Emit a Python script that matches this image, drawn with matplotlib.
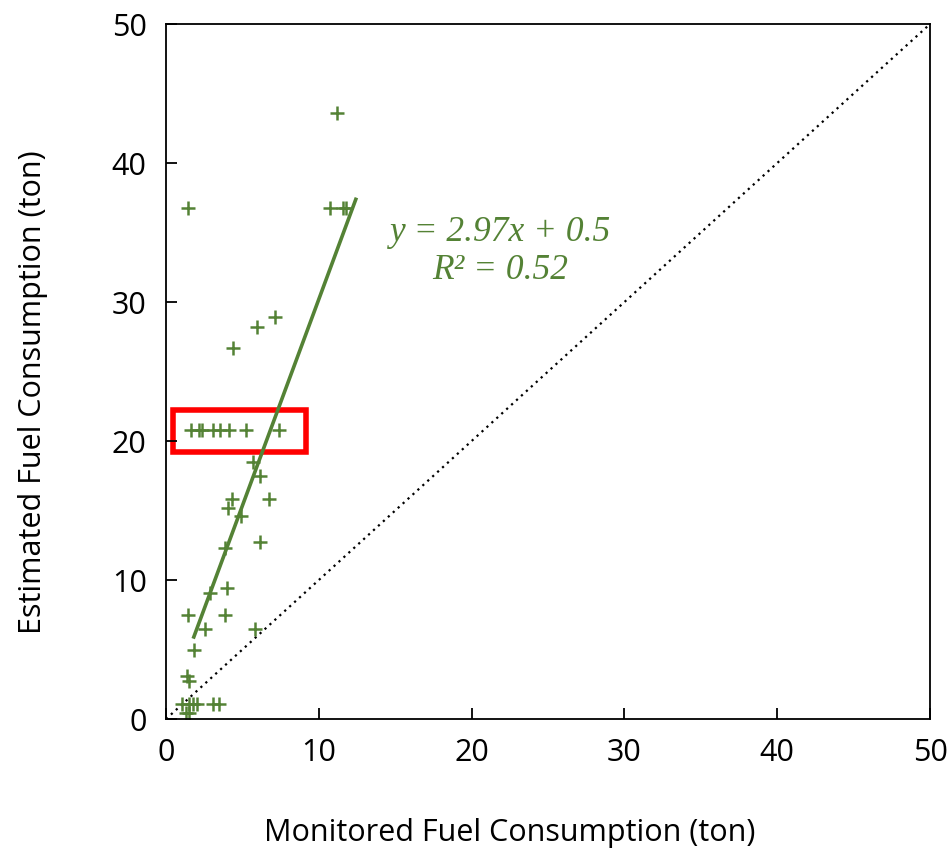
import numpy as np
import matplotlib.pyplot as plt
from matplotlib.patches import Rectangle

# monitored vs estimated fuel consumption (ton)
monitored = [1.64, 2.18, 2.36, 3.05, 3.55, 4.14, 5.24, 7.37,
             5.67, 6.17, 4.30, 4.08, 6.72, 4.89, 3.86, 6.17,
             2.88, 3.97, 1.46, 3.86, 2.57, 5.85, 1.85, 1.35, 1.48,
             1.03, 1.48, 1.79, 2.01, 3.05, 3.49, 1.30, 1.50,
             11.19, 1.46, 10.73, 11.56, 11.78, 7.13, 5.98, 4.38]
estimated = [20.8, 20.8, 20.8, 20.8, 20.8, 20.8, 20.8, 20.8,
             18.5, 17.5, 15.8, 15.2, 15.8, 14.6, 12.3, 12.7,
             9.1, 9.4, 7.5, 7.5, 6.5, 6.5, 5.0, 3.1, 2.7,
             1.1, 1.1, 1.1, 1.1, 1.1, 1.1, 0.4, 0.4,
             43.6, 36.8, 36.8, 36.8, 36.8, 28.9, 28.2, 26.7]

slope = 2.97
intercept = 0.5
r2 = 0.52
fit_x = [1.82, 12.42]

green = '#548235'

fig = plt.figure(figsize=(9.53, 8.49), dpi=100)
ax = fig.add_axes([0.1742, 0.1531, 0.8017, 0.8186])

ax.plot([0, 50], [0, 50], color='black', linestyle=(0, (1, 2)), linewidth=1.6)
ax.plot(monitored, estimated, '+', color=green, markersize=10, markeredgewidth=1.8)
fx = np.array(fit_x)
ax.plot(fx, slope * fx + intercept, color=green, linewidth=2.6)

ax.text(21.9, 35.0, 'y = %.2fx + %.1f' % (slope, intercept), color=green,
        family='Liberation Serif', style='italic', fontsize=25.5, ha='center', va='center')
ax.text(21.9, 32.3, 'R\u00b2 = %.2f' % r2, color=green,
        family='Liberation Serif', style='italic', fontsize=25.5, ha='center', va='center')

# highlight the 20.8 ton row
ax.add_patch(Rectangle((0.45, 19.2), 8.7, 3.0, fill=False, edgecolor='red', linewidth=4))

ax.set_xlim(0, 50)
ax.set_ylim(0, 50)
ax.set_xticks(range(0, 51, 10))
ax.set_yticks(range(0, 51, 10))
ax.tick_params(direction='in', length=8, width=1.3, labelsize=22, pad=14)
for lab in ax.get_xticklabels() + ax.get_yticklabels():
    lab.set_family('Open Sans')
for s in ax.spines.values():
    s.set_linewidth(1.3)

ax.set_xlabel('Monitored Fuel Consumption (ton)', family='Open Sans', fontsize=22)
ax.set_ylabel('Estimated Fuel Consumption (ton)', family='Open Sans', fontsize=22)
ax.xaxis.set_label_coords(0.45, -0.142)
ax.yaxis.set_label_coords(-0.154, 0.47)

fig.savefig('out.png', dpi=100)
